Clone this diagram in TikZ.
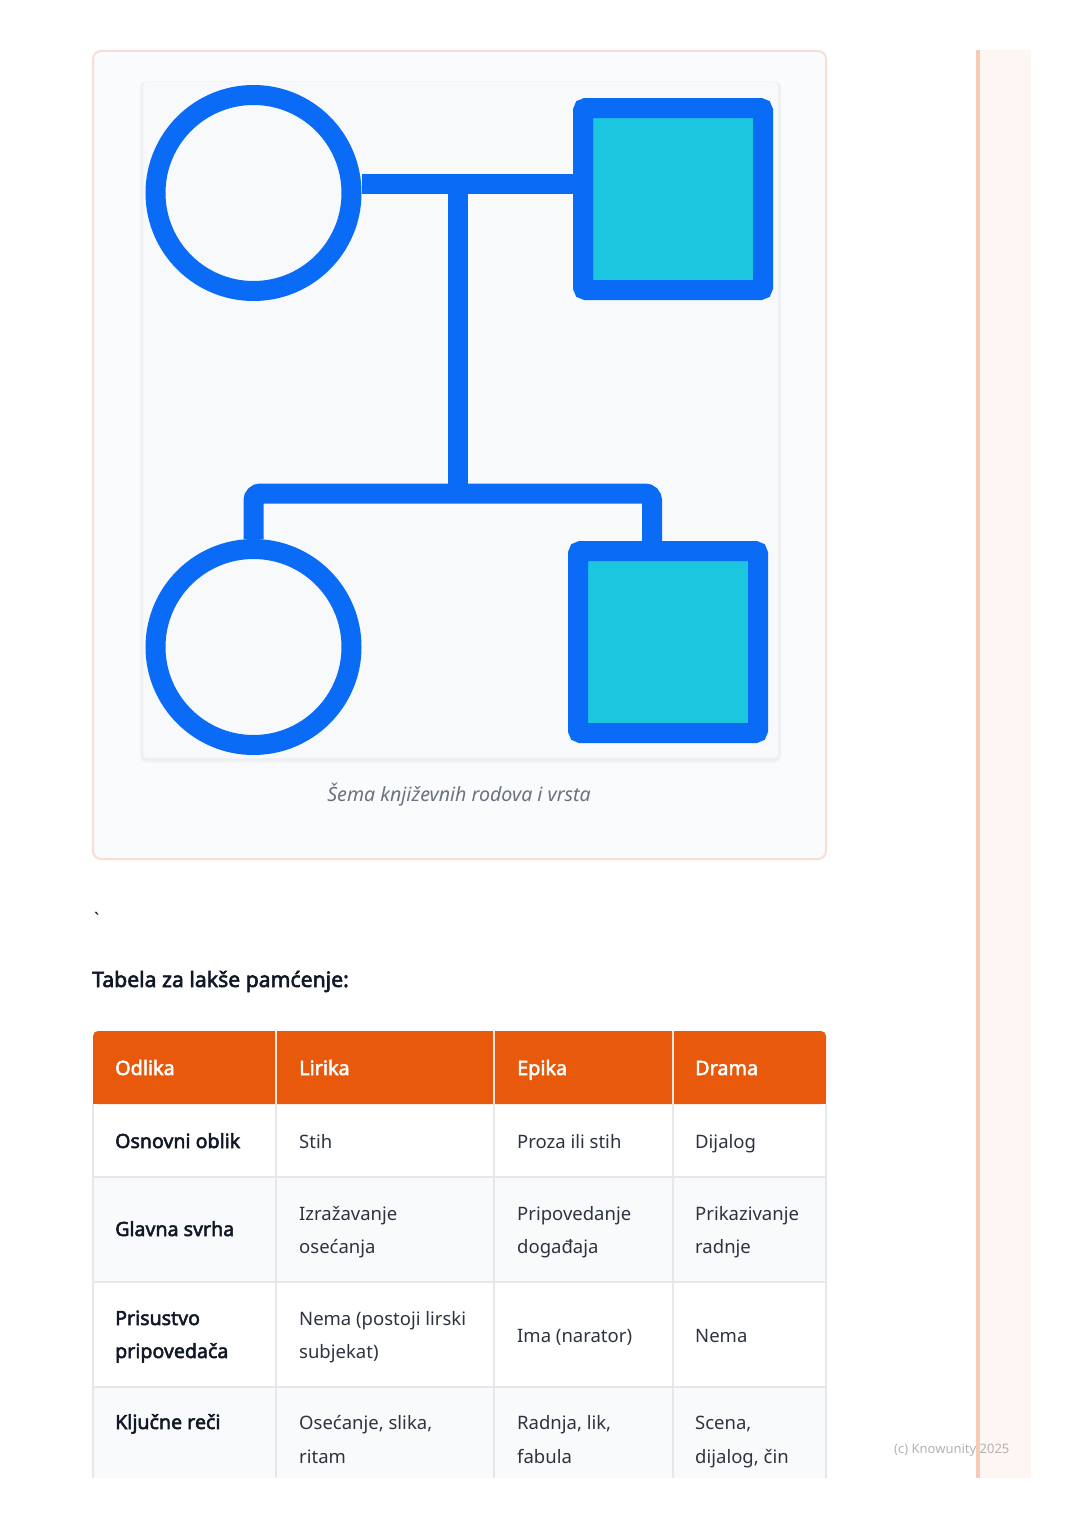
\documentclass[tikz,border=0pt]{standalone}
\usepackage{fontspec}
\setmainfont{Noto Sans}[AutoFakeBold=2.6]
\definecolor{pedblue}{HTML}{0A6CF6}
\definecolor{pedcyan}{HTML}{1BC6DE}
\definecolor{cardbg}{HTML}{FAFBFC}
\definecolor{cardline}{HTML}{F8DFD3}
\definecolor{panelbg}{HTML}{F7F9FB}
\definecolor{hdr}{HTML}{E8590C}
\definecolor{gridc}{HTML}{E5E7EB}
\definecolor{rowalt}{HTML}{F9FAFB}
\definecolor{ink}{HTML}{111827}
\definecolor{bodyc}{HTML}{2D3440}
\definecolor{capc}{HTML}{6B7280}
\definecolor{sidefill}{HTML}{FEF6F2}
\definecolor{sideline}{HTML}{F6CBB6}
\definecolor{wmc}{HTML}{B3B3B3}
\tikzset{
  conn/.style={draw=pedblue, line width=20pt},
  fem/.style={circle, draw=pedblue, line width=20pt, fill=panelbg, minimum size=196pt, inner sep=0pt},
  mal/.style={rectangle, draw=pedblue, line width=20pt, fill=pedcyan, minimum width=180pt, minimum height=182pt, inner sep=0pt, rounded corners=3pt},
  cell/.style={anchor=base west, inner sep=0pt, font=\fontsize{18.5}{22}\selectfont, text=bodyc},
  cellb/.style={cell, font=\fontsize{19.6}{23}\selectfont\bfseries, text=ink},
  hd/.style={cell, font=\fontsize{19.8}{23}\selectfont\bfseries, text=white},
  gridl/.style={draw=gridc, line width=2pt},
}
\begin{document}
\begin{tikzpicture}[x=1pt,y=-1pt]
\useasboundingbox (0,0) rectangle (1080,1528);
\fill[white] (0,0) rectangle (1080,1528);
% sidebar
\fill[sidefill] (978,50) rectangle (1031,1478);
\node[anchor=base west, inner sep=0pt, font=\fontsize{13}{15}\selectfont, text=wmc] (wm) at (894,1453) {(c) Knowunity 2025};
\draw[sideline, line width=4pt] (978,50) -- (978,1478);
% card
\draw[fill=cardbg, draw=cardline, line width=2pt, rounded corners=8pt] (93,51) rectangle (826,859);
\fill[black, opacity=0.025, rounded corners=5pt] (140,81) rectangle (781,763);
\fill[black, opacity=0.025, rounded corners=5pt] (141,82) rectangle (780,761);
\fill[panelbg, rounded corners=4pt] (143,82) rectangle (778,758);
% pedigree
\node[fem] (mother) at (253.5,193) {};
\node[mal] (father) at (673,199) {};
\node[fem] (daughter) at (253.5,647) {};
\node[mal] (son) at (668,642) {};
\coordinate (mj) at (458,184);
\coordinate (sd) at (652,493.5);
\draw[conn] (mother.east |- mj) -- (father.west |- mj);
\draw[conn] (mj) -- (mj |- sd);
\draw[conn, rounded corners=7pt] (daughter.north) |- (sd) -- (sd |- son.north);
\node[font=\fontsize{19.6}{23}\selectfont\itshape, text=capc, anchor=base, inner sep=0pt] (caption) at (459,801) {Šema književnih rodova i vrsta};
% texts
\node[cell, text=ink] (tick) at (94,926) {ˋ};
\node[anchor=base west, inner sep=0pt, font=\fontsize{21.2}{25}\selectfont\bfseries, text=ink] (title) at (92,987) {Tabela za lakše pamćenje:};
% table
\fill[hdr, rounded corners=5pt] (93,1031) rectangle (826,1104);
\fill[hdr] (93,1060) rectangle (826,1104);
\fill[rowalt] (93,1177) rectangle (826,1282);
\fill[rowalt] (93,1387) rectangle (826,1478);
\foreach \yy in {1177,1282,1387} \draw[gridl] (93,\yy) -- (826,\yy);
\foreach \xx in {93,276,494,673,826} \draw[gridl] (\xx,1104) -- (\xx,1478);
\foreach \xx in {276,494,673} \draw[draw=white!85!hdr, line width=2pt] (\xx,1031) -- (\xx,1104);
\node[hd] (h1) at (115,1075) {Odlika};
\node[hd] (h2) at (299,1075) {Lirika};
\node[hd] (h3) at (517,1075) {Epika};
\node[hd] (h4) at (695,1075) {Drama};
\node[cellb] (r1c1) at (115,1148) {Osnovni oblik};
\node[cell] (r1c2) at (299,1148) {Stih};
\node[cell] (r1c3) at (517,1148) {Proza ili stih};
\node[cell] (r1c4) at (695,1148) {Dijalog};
\node[cellb] (r2c1) at (115,1236) {Glavna svrha};
\node[cell] (r2c2a) at (299,1220) {Izražavanje};
\node[cell] (r2c2b) at (299,1253) {osećanja};
\node[cell] (r2c3a) at (517,1220) {Pripovedanje};
\node[cell] (r2c3b) at (517,1253) {događaja};
\node[cell] (r2c4a) at (695,1220) {Prikazivanje};
\node[cell] (r2c4b) at (695,1253) {radnje};
\node[cellb] (r3c1a) at (115,1325) {Prisustvo};
\node[cellb] (r3c1b) at (115,1358) {pripovedača};
\node[cell] (r3c2a) at (299,1325) {Nema (postoji lirski};
\node[cell] (r3c2b) at (299,1358) {subjekat)};
\node[cell] (r3c3) at (517,1342) {Ima (narator)};
\node[cell] (r3c4) at (695,1342) {Nema};
\node[cellb] (r4c1) at (115,1429) {Ključne reči};
\node[cell] (r4c2a) at (299,1429) {Osećanje, slika,};
\node[cell] (r4c2b) at (299,1463) {ritam};
\node[cell] (r4c3a) at (517,1429) {Radnja, lik,};
\node[cell] (r4c3b) at (517,1463) {fabula};
\node[cell] (r4c4a) at (695,1429) {Scena,};
\node[cell] (r4c4b) at (695,1463) {dijalog, čin};
\end{tikzpicture}
\end{document}
